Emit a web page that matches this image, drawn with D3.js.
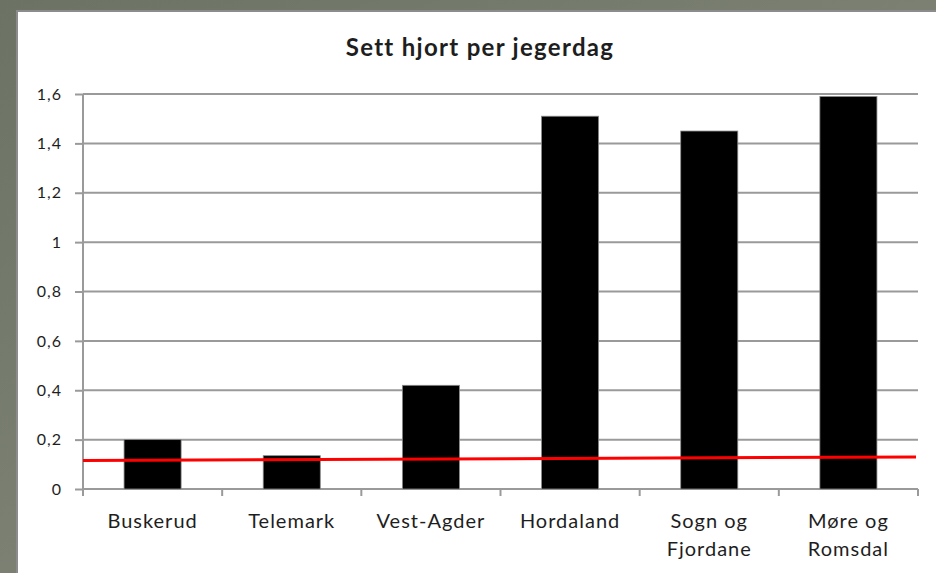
<!DOCTYPE html>
<html>
<head>
<meta charset="utf-8">
<script src="https://cdn.jsdelivr.net/npm/d3@7"></script>
<style>
  html, body { margin: 0; padding: 0; background: #6f7667; }
  svg { display: block; }
  text { font-family: Lato, "Open Sans", sans-serif; fill: #1e1e1e; }
</style>
</head>
<body>
<div class="chart"></div>
<script>
(function() {
  'use strict';

  const WIDTH = 936;
  const HEIGHT = 573;

  // Chart data
  const TITLE = 'Sett hjort per jegerdag';
  const CATEGORIES = ['Buskerud', 'Telemark', 'Vest-Agder', 'Hordaland', 'Sogn og\nFjordane', 'Møre og\nRomsdal'];
  const VALUES = [0.20, 0.135, 0.42, 1.51, 1.45, 1.59];
  const Y_TICKS = [0, 0.2, 0.4, 0.6, 0.8, 1, 1.2, 1.4, 1.6];
  // Red reference line, value at left and right edge of plot
  const REF_LINE = [0.115, 0.13];

  const plot = { left: 83, right: 918, top: 94, bottom: 489 };

  const svg = d3.select('.chart')
    .append('svg')
    .attr('width', WIDTH)
    .attr('height', HEIGHT);

  // Background photo-ish gradient
  const defs = svg.append('defs');
  const grad = defs.append('linearGradient').attr('id', 'bg').attr('x1', 0).attr('x2', 1).attr('y1', 0).attr('y2', 1);
  grad.append('stop').attr('offset', '0%').attr('stop-color', '#6c7364');
  grad.append('stop').attr('offset', '50%').attr('stop-color', '#7b8072');
  grad.append('stop').attr('offset', '100%').attr('stop-color', '#5f665a');
  svg.append('rect').attr('width', WIDTH).attr('height', HEIGHT).attr('fill', 'url(#bg)');

  // White panel with grey frame
  svg.append('rect')
    .attr('x', 17).attr('y', 11)
    .attr('width', WIDTH).attr('height', HEIGHT)
    .attr('fill', '#fff')
    .attr('stroke', '#8c8c8c')
    .attr('stroke-width', 2);

  const x = d3.scaleBand()
    .domain(CATEGORIES)
    .range([plot.left, plot.right])
    .padding(0);

  const y = d3.scaleLinear()
    .domain([0, 1.6])
    .range([plot.bottom, plot.top]);

  const fmt = function(v) { return String(+v.toFixed(1)).replace('.', ','); };

  // y ticks + labels
  const yAxis = d3.axisLeft(y)
    .tickValues(Y_TICKS)
    .tickSize(8)
    .tickPadding(13)
    .tickFormat(fmt);

  const gy = svg.append('g')
    .attr('transform', 'translate(' + plot.left + ',0)')
    .call(yAxis);
  gy.select('.domain').remove();
  gy.selectAll('.tick line').attr('stroke', '#9a9a9a').attr('stroke-width', 2);
  gy.selectAll('.tick text')
    .style('font-size', '16px')
    .style('letter-spacing', '1px')
    .attr('fill', '#1e1e1e');

  // Gridlines
  svg.append('g')
    .selectAll('line')
    .data(Y_TICKS)
    .join('line')
    .attr('x1', plot.left).attr('x2', plot.right)
    .attr('y1', d => y(d)).attr('y2', d => y(d))
    .attr('stroke', '#9a9a9a')
    .attr('stroke-width', 2);

  // Bars
  const barW = x.bandwidth() * 0.41;
  svg.append('g')
    .selectAll('rect')
    .data(VALUES)
    .join('rect')
    .attr('x', (d, i) => x(CATEGORIES[i]) + (x.bandwidth() - barW) / 2)
    .attr('y', d => y(d))
    .attr('width', barW)
    .attr('height', d => y(0) - y(d))
    .attr('fill', '#000')
    .attr('stroke', '#8a8a8a')
    .attr('stroke-width', 0.8);

  // Y axis line
  svg.append('line')
    .attr('x1', plot.left).attr('x2', plot.left)
    .attr('y1', plot.top).attr('y2', plot.bottom + 7)
    .attr('stroke', '#9a9a9a')
    .attr('stroke-width', 2);

  // X axis ticks at band boundaries
  const edges = CATEGORIES.map(c => x(c)).concat([plot.right]);
  svg.append('g')
    .selectAll('line')
    .data(edges)
    .join('line')
    .attr('x1', d => d).attr('x2', d => d)
    .attr('y1', plot.bottom).attr('y2', plot.bottom + 7)
    .attr('stroke', '#9a9a9a')
    .attr('stroke-width', 2);

  // Category labels
  const labels = svg.append('g')
    .selectAll('text')
    .data(CATEGORIES)
    .join('text')
    .attr('x', d => x(d) + x.bandwidth() / 2)
    .attr('y', 528)
    .attr('text-anchor', 'middle')
    .style('font-size', '20px')
    .style('letter-spacing', '1px');
  labels.each(function(d) {
    const parts = d.split('\n');
    for (let i = 0; i < parts.length; ++i) {
      d3.select(this).append('tspan')
        .attr('x', x(d) + x.bandwidth() / 2)
        .attr('dy', i === 0 ? 0 : 28)
        .text(parts[i]);
    }
  });

  // Red reference line
  const rx = d3.scaleLinear().domain([0, REF_LINE.length - 1]).range([plot.left, plot.right - 2]);
  svg.append('path')
    .datum(REF_LINE)
    .attr('d', d3.line().x((d, i) => rx(i)).y(d => y(d)))
    .attr('fill', 'none')
    .attr('stroke', '#ff0000')
    .attr('stroke-width', 3);

  // Title
  svg.append('text')
    .attr('x', 480)
    .attr('y', 56)
    .attr('text-anchor', 'middle')
    .style('font-size', '24px')
    .style('font-weight', 'bold')
    .style('letter-spacing', '1.3px')
    .attr('fill', '#111')
    .text(TITLE);
})();
</script>
</body>
</html>
